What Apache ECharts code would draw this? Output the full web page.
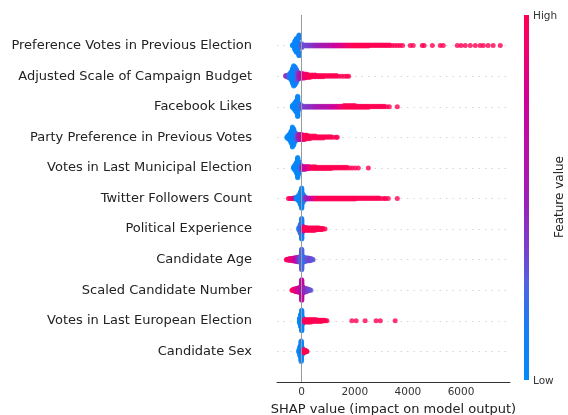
<!DOCTYPE html>
<html>
<head>
<meta charset="utf-8">
<script src="https://cdn.jsdelivr.net/npm/echarts@6/dist/echarts.min.js"></script>
<style>
  html, body { margin: 0; padding: 0; background: #fff; }
  #chart { width: 568px; height: 415px; }
</style>
</head>
<body>
<div id="chart"></div>
<script>
// Feature names, top row first
const features = [
  'Preference Votes in Previous Election',
  'Adjusted Scale of Campaign Budget',
  'Facebook Likes',
  'Party Preference in Previous Votes',
  'Votes in Last Municipal Election',
  'Twitter Followers Count',
  'Political Experience',
  'Candidate Age',
  'Scaled Candidate Number',
  'Votes in Last European Election',
  'Candidate Sex'
];

// Each entry: [SHAP value, normalised feature value (0 = low, 1 = high), number of samples]
const prefVotesPrev = [
  [-350, 0.02, 2], [-300, 0.05, 6], [-250, 0.05, 14], [-200, 0.03, 30], [-150, 0.05, 30], [-100, 0.1, 14], [-50, 0.2, 6],
  [0, 0.3, 3], [100, 0.32, 3], [200, 0.35, 3], [300, 0.38, 3], [400, 0.4, 3], [500, 0.45, 3], [600, 0.48, 3],
  [700, 0.5, 3], [800, 0.55, 3], [900, 0.58, 3], [1000, 0.6, 3], [1100, 0.65, 3], [1200, 0.7, 3], [1300, 0.75, 3],
  [1400, 0.78, 3], [1500, 0.82, 3], [1600, 0.86, 3], [1700, 0.9, 3], [1800, 0.94, 3], [1900, 0.97, 3], [2000, 1, 3],
  [2100, 1, 3], [2200, 1, 3], [2300, 1, 3], [2400, 1, 3], [2500, 1, 3], [2600, 1, 2], [2700, 1, 2], [2800, 1, 2],
  [2900, 1, 2], [3000, 1, 2], [3100, 1, 2], [3200, 1, 2], [3300, 1, 2], [3400, 1, 1], [3500, 1, 1], [3600, 1, 1],
  [3700, 1, 1], [3800, 1, 1],
  [4090, 1, 1], [4200, 1, 1], [4540, 1, 1], [4610, 1, 1], [4920, 1, 1], [5220, 1, 1], [5330, 1, 1],
  [5860, 1, 1], [6000, 1, 1], [6160, 1, 1], [6350, 1, 1], [6540, 1, 1], [6720, 1, 1], [6840, 1, 1],
  [7020, 1, 1], [7210, 1, 1], [7480, 1, 1]
];
const campaignBudget = [
  [-600, 0.45, 2], [-550, 0.4, 3], [-500, 0.3, 5], [-450, 0.2, 8], [-400, 0.1, 14], [-350, 0.05, 24], [-300, 0.05, 34],
  [-250, 0.08, 30], [-200, 0.15, 22], [-150, 0.3, 14], [-100, 0.45, 10], [-50, 0.55, 8], [0, 0.7, 8], [50, 0.8, 8],
  [100, 0.85, 7], [150, 0.9, 6], [200, 0.95, 6], [300, 1, 5], [400, 1, 4], [500, 1, 4], [600, 1, 3], [700, 1, 3],
  [800, 1, 3], [900, 1, 2], [1000, 1, 2], [1100, 1, 2], [1200, 1, 2], [1300, 1, 2], [1400, 1, 1], [1500, 1, 1],
  [1600, 1, 1], [1700, 1, 1], [1770, 1, 1]
];
const facebookLikes = [
  [-350, 0.05, 4], [-300, 0.05, 8], [-250, 0.03, 14], [-200, 0.05, 20], [-150, 0.05, 34], [-100, 0.1, 10], [-50, 0.2, 6],
  [0, 0.3, 4], [100, 0.35, 3], [200, 0.4, 3], [300, 0.42, 3], [400, 0.45, 3], [500, 0.5, 3], [600, 0.55, 3],
  [700, 0.55, 3], [800, 0.6, 3], [900, 0.6, 3], [1000, 0.65, 3], [1100, 0.7, 3], [1200, 0.75, 3], [1300, 0.8, 3],
  [1400, 0.85, 3], [1500, 0.9, 3], [1600, 0.95, 4], [1700, 1, 4], [1800, 1, 4], [1900, 1, 4], [2000, 1, 4],
  [2100, 1, 3], [2200, 1, 3], [2300, 1, 3], [2400, 1, 3], [2500, 1, 3], [2600, 1, 2], [2700, 1, 2], [2800, 1, 2],
  [2900, 1, 2], [3000, 1, 2], [3100, 1, 2], [3200, 1, 1], [3300, 1, 1], [3600, 1, 1]
];
const partyPreference = [
  [-550, 0.05, 3], [-500, 0.05, 6], [-450, 0.05, 10], [-400, 0.03, 18], [-350, 0.03, 30], [-300, 0.05, 24],
  [-250, 0.1, 14], [-200, 0.2, 10], [-150, 0.35, 8], [-100, 0.5, 8], [-50, 0.6, 8], [0, 0.75, 8], [50, 0.85, 7],
  [100, 0.9, 7], [150, 0.95, 6], [200, 1, 6], [300, 1, 5], [400, 1, 4], [500, 1, 4], [600, 1, 3], [700, 1, 3],
  [800, 1, 3], [900, 1, 2], [1000, 1, 2], [1100, 1, 2], [1200, 1, 1], [1300, 1, 1], [1340, 1, 1]
];
const municipalVotes = [
  [-300, 0.05, 4], [-250, 0.05, 10], [-200, 0.05, 18], [-150, 0.03, 34], [-100, 0.05, 20], [-50, 0.15, 10],
  [0, 0.4, 6], [50, 0.55, 5], [100, 0.65, 5], [150, 0.75, 5], [200, 0.8, 4], [250, 0.85, 4], [300, 0.9, 4],
  [400, 0.95, 4], [500, 1, 4], [600, 1, 3], [700, 1, 3], [800, 1, 3], [900, 1, 3], [1000, 1, 3], [1100, 1, 3],
  [1200, 1, 2], [1300, 1, 2], [1400, 1, 2], [1500, 1, 2], [1600, 1, 2], [1700, 1, 2], [1800, 1, 1], [1900, 1, 1],
  [2010, 1, 1], [2130, 1, 1], [2510, 1, 1]
];
const twitterFollowers = [
  [-500, 1, 1], [-450, 1, 1], [-400, 0.95, 1], [-350, 0.9, 1], [-300, 0.8, 2], [-250, 0.5, 2], [-200, 0.2, 4],
  [-150, 0.05, 6], [-100, 0.05, 12], [-50, 0.03, 22], [0, 0.05, 34], [50, 0.1, 14], [100, 0.2, 6], [150, 0.4, 4],
  [200, 0.5, 3], [300, 0.6, 3], [400, 0.75, 3], [500, 0.9, 3], [600, 0.95, 3], [700, 1, 3], [800, 1, 3],
  [900, 1, 3], [1000, 1, 3], [1100, 1, 3], [1200, 1, 3], [1300, 1, 3], [1400, 1, 3], [1500, 1, 3], [1600, 1, 3],
  [1700, 1, 3], [1800, 1, 3], [1900, 1, 3], [2000, 1, 3], [2100, 1, 2], [2200, 1, 2], [2300, 1, 2], [2400, 1, 2],
  [2500, 1, 2], [2600, 1, 2], [2700, 1, 2], [2800, 1, 2], [2900, 1, 2], [3000, 1, 1], [3100, 1, 1], [3160, 1, 1],
  [3260, 1, 1], [3600, 1, 1]
];
const politicalExperience = [
  [-100, 0.1, 6], [-50, 0.3, 18], [0, 0.12, 40], [50, 0.5, 10], [100, 0.9, 6], [150, 1, 6], [200, 1, 5],
  [250, 1, 5], [300, 1, 5], [350, 1, 5], [400, 1, 5], [450, 1, 5], [500, 1, 5], [550, 1, 4], [600, 1, 4],
  [650, 1, 4], [700, 1, 3], [750, 1, 3], [800, 1, 2], [880, 1, 1]
];
const candidateAge = [
  [-580, 1, 1], [-550, 1, 2], [-500, 0.95, 3], [-450, 0.9, 4], [-400, 0.9, 4], [-350, 0.85, 5], [-300, 0.8, 6],
  [-250, 0.75, 7], [-200, 0.7, 8], [-150, 0.55, 9], [-100, 0.4, 10], [-50, 0.3, 12], [0, 0.25, 40], [50, 0.2, 12],
  [100, 0.2, 9], [150, 0.25, 7], [200, 0.3, 6], [250, 0.3, 6], [300, 0.35, 5], [350, 0.35, 4], [400, 0.3, 2],
  [430, 0.3, 1]
];
const candidateNumber = [
  [-370, 1, 1], [-330, 1, 2], [-300, 0.95, 4], [-250, 0.9, 6], [-200, 0.85, 7], [-150, 0.8, 8], [-100, 0.75, 10],
  [-50, 0.7, 12], [0, 0.7, 40], [50, 0.6, 12], [100, 0.5, 9], [150, 0.45, 7], [200, 0.4, 6], [250, 0.35, 4],
  [300, 0.35, 2], [350, 0.3, 1]
];
const europeanVotes = [
  [-80, 0.05, 10], [-40, 0.03, 24], [0, 0.05, 40], [40, 0.1, 12], [100, 0.9, 5], [150, 1, 5], [200, 1, 5],
  [250, 1, 5], [300, 1, 5], [350, 1, 5], [400, 1, 4], [450, 1, 4], [500, 1, 4], [550, 1, 4], [600, 1, 3],
  [650, 1, 3], [700, 1, 3], [750, 1, 3], [800, 1, 2], [850, 1, 2], [900, 1, 1], [950, 1, 1], [1890, 1, 1],
  [2050, 1, 1], [2390, 1, 1], [2800, 1, 1], [2960, 1, 1], [3520, 1, 1]
];
const candidateSex = [
  [-100, 0.05, 6], [-60, 0.03, 20], [-20, 0.05, 40], [20, 0.1, 14], [60, 0.9, 6], [100, 1, 5], [140, 1, 4],
  [180, 1, 2], [200, 1, 1]
];

const rows = [
  prefVotesPrev, campaignBudget, facebookLikes, partyPreference, municipalVotes, twitterFollowers,
  politicalExperience, candidateAge, candidateNumber, europeanVotes, candidateSex
];

const xTicks = [0, 2000, 4000, 6000];

// Low -> high colour ramp for the feature value
const rampStops = [
  [0.00, [0, 139, 251]],
  [0.15, [26, 124, 245]],
  [0.27, [85, 96, 224]],
  [0.36, [122, 64, 204]],
  [0.49, [154, 32, 184]],
  [0.63, [184, 16, 168]],
  [0.77, [208, 0, 154]],
  [0.90, [240, 0, 112]],
  [1.00, [255, 0, 82]]
];

function rampColor(t) {
  t = Math.max(0, Math.min(1, t));
  for (let i = 1; i < rampStops.length; i++) {
    const [t1, c1] = rampStops[i];
    const [t0, c0] = rampStops[i - 1];
    if (t <= t1) {
      const f = (t - t0) / (t1 - t0);
      const c = c0.map((v, k) => Math.round(v + (c1[k] - v) * f));
      return 'rgb(' + c.join(',') + ')';
    }
  }
  return 'rgb(255,0,82)';
}

// Beeswarm layout: bin SHAP values along x and stack samples alternately above/below the row centre
function swarm(clusters, rowPos) {
  const pts = [];
  clusters.forEach(([x, fv, n]) => {
    for (let k = 0; k < n; k++) pts.push({ x: x, fv: fv });
  });
  const xs = pts.map(p => p.x);
  const lo = Math.min(...xs), hi = Math.max(...xs);
  const nbins = 100;
  pts.forEach((p, i) => { p.q = Math.round(nbins * (p.x - lo) / (hi - lo + 1e-8)); p.i = i; });
  const order = pts.slice().sort((a, b) => a.q - b.q || a.i - b.i);
  let layer = 0, last = -1;
  order.forEach(p => {
    if (p.q !== last) layer = 0;
    p.off = Math.ceil(layer / 2) * ((layer % 2) * 2 - 1);
    layer += 1;
    last = p.q;
  });
  const maxOff = Math.max(...pts.map(p => p.off + 1));
  const scale = 0.9 * (0.4 / maxOff);
  return pts.map(p => ({
    value: [p.x, rowPos + p.off * scale],
    itemStyle: { color: rampColor(p.fv) }
  }));
}

const points = [];
rows.forEach((clusters, r) => {
  const pos = rows.length - 1 - r;
  swarm(clusters, pos).forEach(d => points.push(d));
});

const chart = echarts.init(document.getElementById('chart'), null, { renderer: 'canvas' });
const font = 'DejaVu Sans';

chart.setOption({
  animation: false,
  backgroundColor: '#ffffff',
  textStyle: { fontFamily: font },
  grid: { left: 277, right: 58, top: 15, bottom: 33, outerBoundsMode: 'none', containLabel: false },
  xAxis: {
    type: 'value',
    min: -930,
    max: 7845,
    name: 'SHAP value (impact on model output)',
    nameLocation: 'middle',
    nameGap: 19,
    nameTextStyle: { fontSize: 13, color: '#222', fontFamily: font },
    axisLine: { show: true, onZero: false, lineStyle: { color: '#333', width: 1 } },
    axisTick: { show: false },
    splitLine: { show: false },
    axisLabel: {
      customValues: xTicks,
      formatter: v => String(v),
      fontSize: 10.5,
      color: '#333',
      margin: 5,
      fontFamily: font
    }
  },
  yAxis: {
    type: 'value',
    min: -1,
    max: 11,
    interval: 1,
    axisLine: { show: false },
    axisTick: { show: false },
    axisLabel: {
      margin: 25,
      fontSize: 13,
      color: '#222',
      fontFamily: font,
      formatter: v => (v >= 0 && v <= 10 ? features[10 - v] : '')
    },
    splitLine: {
      show: true,
      showMinLine: false,
      showMaxLine: false,
      lineStyle: { color: '#cccccc', width: 0.8, type: [1.5, 5] }
    }
  },
  series: [
    {
      type: 'scatter',
      data: [],
      z: 1,
      silent: true,
      markLine: {
        silent: true,
        symbol: 'none',
        label: { show: false },
        lineStyle: { color: '#999999', width: 1, type: 'solid' },
        data: [{ xAxis: 0 }]
      }
    },
    {
      type: 'scatter',
      z: 3,
      symbol: 'circle',
      symbolSize: 5,
      data: points
    }
  ],
  graphic: [
    {
      type: 'rect',
      shape: { x: 524, y: 15, width: 5, height: 365 },
      style: {
        fill: new echarts.graphic.LinearGradient(0, 1, 0, 0,
          rampStops.map(([t, c]) => ({ offset: t, color: 'rgb(' + c.join(',') + ')' })))
      }
    },
    {
      type: 'text',
      x: 533, y: 16,
      style: { text: 'High', fontSize: 10.5, fill: '#333', fontFamily: font, align: 'left', verticalAlign: 'middle' }
    },
    {
      type: 'text',
      x: 533, y: 381,
      style: { text: 'Low', fontSize: 10.5, fill: '#333', fontFamily: font, align: 'left', verticalAlign: 'middle' }
    },
    {
      type: 'text',
      x: 560, y: 197,
      rotation: Math.PI / 2,
      style: { text: 'Feature value', fontSize: 12, fill: '#222', fontFamily: font, align: 'center', verticalAlign: 'middle' }
    }
  ]
});
</script>
</body>
</html>
